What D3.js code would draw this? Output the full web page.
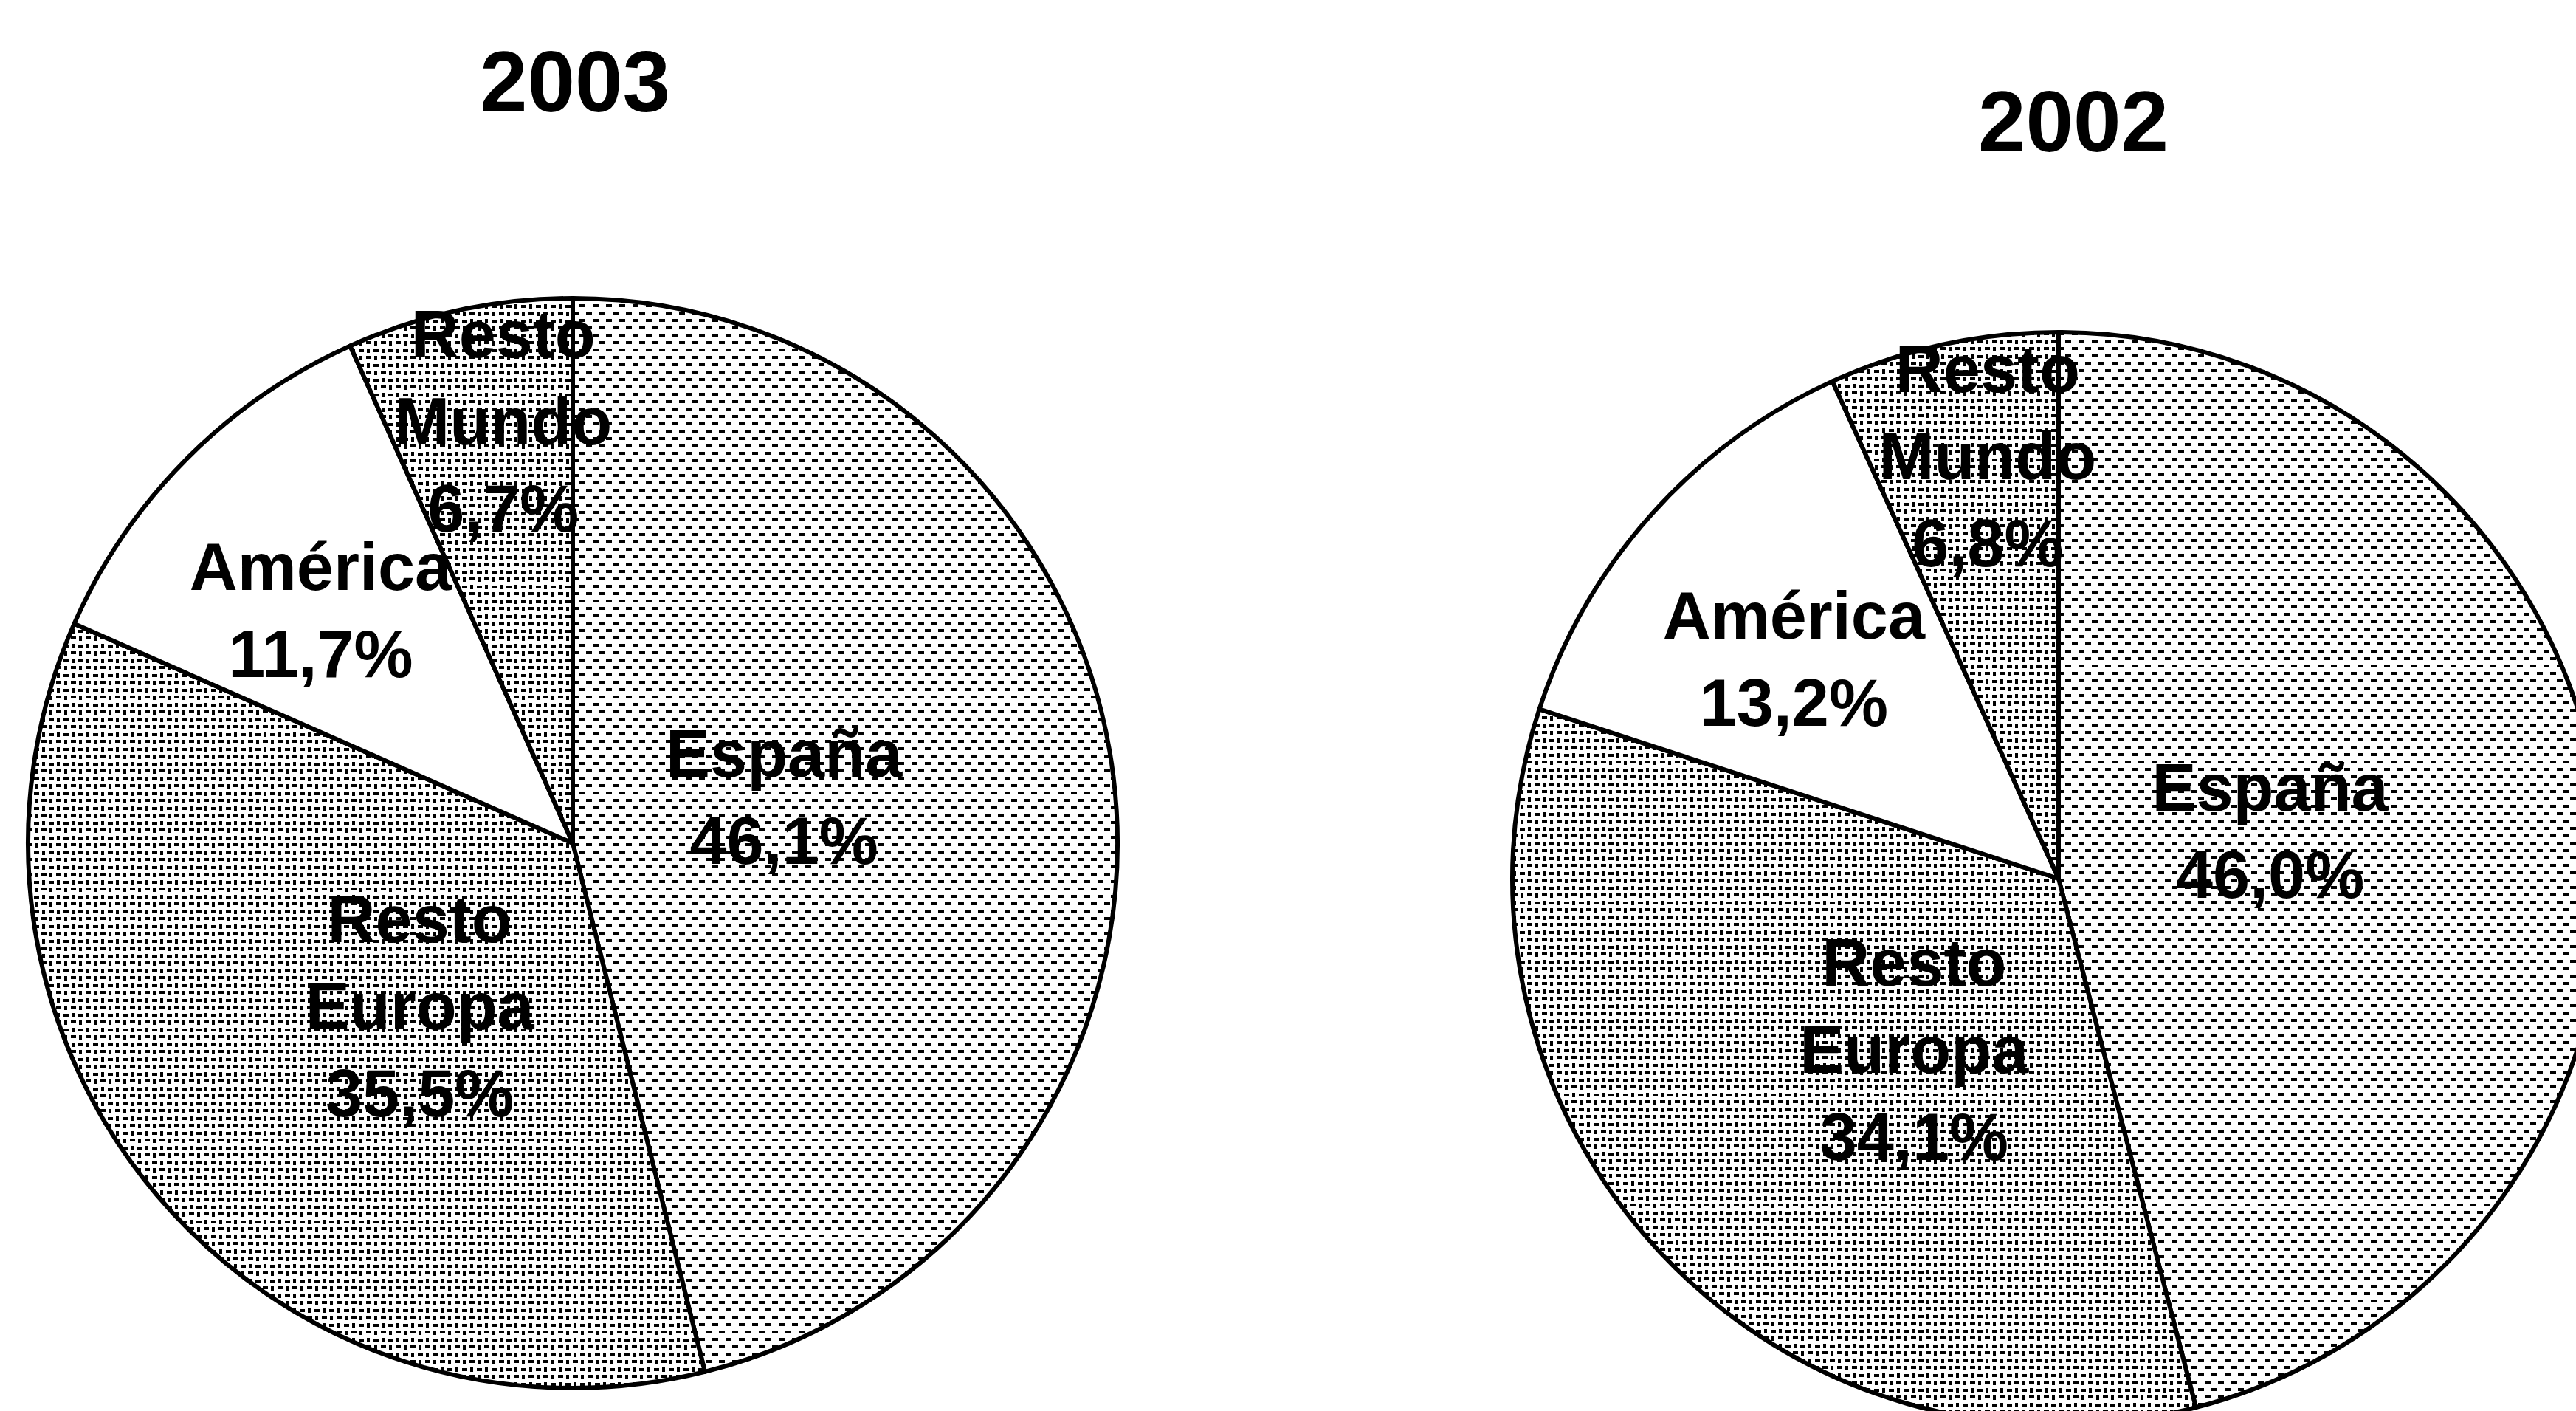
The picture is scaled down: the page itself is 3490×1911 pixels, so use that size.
<!DOCTYPE html>
<html>
<head>
<meta charset="utf-8">
<script src="https://cdn.jsdelivr.net/npm/d3@7"></script>
<style>
  html, body { margin: 0; padding: 0; background: #fff; }
  svg { display: block; }
</style>
</head>
<body>
<svg></svg>
<script>
var regions = ["España", "Resto Europa", "América", "Resto Mundo"]
var years = ["2003", "2002"]
var values2003 = [46.1, 35.5, 11.7, 6.7]
var values2002 = [46.0, 34.1, 13.2, 6.8]

var width = 3490
var height = 1911

// layout of each pie (center, radius, title baseline)
var charts = [
  { year: years[0], values: values2003, cx: 776, cy: 1142, r: 738, titleX: 779, titleY: 151 },
  { year: years[1], values: values2002, cx: 2789, cy: 1190, r: 740, titleX: 2809, titleY: 205 }
]

// fill per slice, label distance (fraction of radius) and angle nudge (degrees)
var fills = ["url(#light)", "url(#dark)", "#ffffff", "url(#dark)"]
var labelFrac = [0.397, 0.41, 0.63, 0.785]
var labelShift = [-5.4, -6.6, -2.1, 2.7]
var lineGap = 118

var svg = d3.select("svg")
  .attr("width", width)
  .attr("height", height)

svg.append("rect")
  .attr("width", width)
  .attr("height", height)
  .attr("fill", "#fff")

var defs = svg.append("defs")

// light dotted texture (España)
var light = defs.append("pattern")
  .attr("id", "light")
  .attr("patternUnits", "userSpaceOnUse")
  .attr("width", 18)
  .attr("height", 20)
light.append("rect").attr("width", 18).attr("height", 20).attr("fill", "#fff")
light.append("rect").attr("x", 0).attr("y", 0).attr("width", 8).attr("height", 4).attr("fill", "#000")
light.append("rect").attr("x", 9).attr("y", 10).attr("width", 8).attr("height", 4).attr("fill", "#000")

// denser texture (Resto Europa, Resto Mundo)
var dark = defs.append("pattern")
  .attr("id", "dark")
  .attr("patternUnits", "userSpaceOnUse")
  .attr("width", 20)
  .attr("height", 20)
dark.append("rect").attr("width", 20).attr("height", 20).attr("fill", "#fff")
dark.append("rect").attr("x", 0).attr("y", 0).attr("width", 7).attr("height", 4).attr("fill", "#000")
dark.append("rect").attr("x", 11).attr("y", 0).attr("width", 4).attr("height", 6).attr("fill", "#000")
dark.append("rect").attr("x", 1).attr("y", 10).attr("width", 4).attr("height", 6).attr("fill", "#000")
dark.append("rect").attr("x", 10).attr("y", 11).attr("width", 7).attr("height", 4).attr("fill", "#000")

var pie = d3.pie()
  .sort(null)
  .value(function (d) { return d })

var fmt = d3.format(".1f")
function pct(v) { return fmt(v).replace(".", ",") + "%" }

charts.forEach(function (c) {
  var g = svg.append("g")
    .attr("transform", "translate(" + c.cx + "," + c.cy + ")")

  var arc = d3.arc()
    .innerRadius(0)
    .outerRadius(c.r)

  var arcs = pie(c.values)

  g.selectAll("path.slice")
    .data(arcs)
    .enter().append("path")
    .attr("class", "slice")
    .attr("d", arc)
    .attr("fill", function (d, i) { return fills[i] })
    .attr("stroke", "#000")
    .attr("stroke-width", 6)
    .attr("stroke-linejoin", "round")

  // labels, placed on the slice's mid angle (plus a small nudge)
  g.selectAll("text.lbl")
    .data(arcs)
    .enter().append("text")
    .attr("class", "lbl")
    .attr("text-anchor", "middle")
    .attr("font-family", "'Liberation Sans', Arial, sans-serif")
    .attr("font-weight", "bold")
    .attr("font-size", 90)
    .attr("fill", "#000")
    .each(function (d, i) {
      var a = (d.startAngle + d.endAngle) / 2 + labelShift[i] * Math.PI / 180
      var rr = c.r * labelFrac[i]
      var pos = [rr * Math.sin(a), -rr * Math.cos(a)]
      var lines = regions[i].split(" ").concat([pct(d.data)])
      var t = d3.select(this)
      var top = pos[1] - (lines.length - 1) * lineGap / 2
      lines.forEach(function (s, k) {
        t.append("tspan")
          .attr("x", pos[0])
          .attr("y", top + k * lineGap)
          .attr("dy", "0.35em")
          .text(s)
      })
    })

  svg.append("text")
    .attr("x", c.titleX)
    .attr("y", c.titleY)
    .attr("text-anchor", "middle")
    .attr("font-family", "'Liberation Sans', Arial, sans-serif")
    .attr("font-weight", "bold")
    .attr("font-size", 116)
    .attr("fill", "#000")
    .text(c.year)
})
</script>
</body>
</html>
